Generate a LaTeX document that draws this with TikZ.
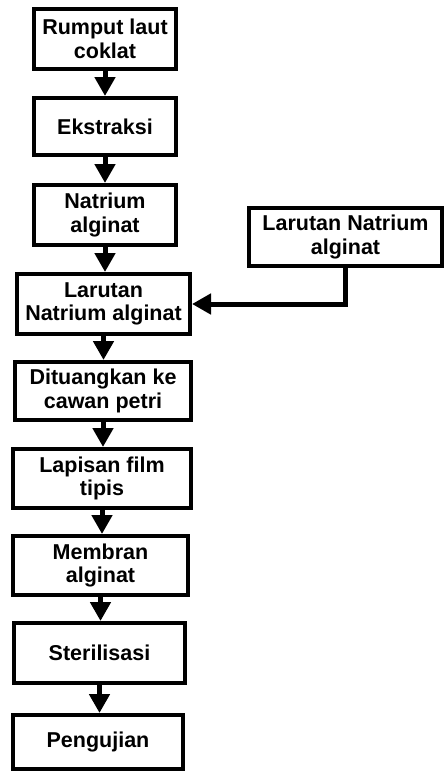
\documentclass[tikz,border=0pt]{standalone}
\usepackage{fontspec}
\setmainfont{Liberation Sans}
\usetikzlibrary{arrows.meta,calc}
\begin{document}
\begin{tikzpicture}[x=1pt,y=-1pt,
  box/.style={draw=black, line width=4pt, rectangle, align=center,
    font=\fontsize{21.5}{23.5}\selectfont\bfseries, inner sep=0pt},
  flow/.style={line width=5pt, -{Triangle[width=20pt,length=19pt]}}]
\useasboundingbox (0,0) rectangle (446,774);
\node[box, minimum width=142pt, minimum height=60pt] (b1) at (105,39) {Rumput laut\\coklat};
\node[box, minimum width=142pt, minimum height=57pt] (b2) at (105,126.5) {Ekstraksi};
\node[box, minimum width=142pt, minimum height=60pt] (b3) at (105,215) {Natrium\\alginat};
\node[box, minimum width=173pt, minimum height=60pt] (b4) at (103.5,304) {Larutan\\Natrium alginat};
\node[box, minimum width=193pt, minimum height=58pt] (r) at (345.5,237) {Larutan Natrium\\alginat};
\node[box, minimum width=176pt, minimum height=58pt] (b5) at (103,391) {Dituangkan ke\\cawan petri};
\node[box, minimum width=178pt, minimum height=59pt] (b6) at (102,478.5) {Lapisan film\\tipis};
\node[box, minimum width=175pt, minimum height=59pt] (b7) at (100.5,565.5) {Membran\\alginat};
\node[box, minimum width=171pt, minimum height=60pt] (b8) at (99.5,653) {Sterilisasi};
\node[box, minimum width=170pt, minimum height=54pt] (b9) at (98,742) {Pengujian};
\draw[flow] (b1.south) -- (b1.south |- b2.north);
\draw[flow] (b2.south) -- (b2.south |- b3.north);
\draw[flow] (b3.south) -- (b3.south |- b4.north);
\draw[flow] (b4.south) -- (b4.south |- b5.north);
\draw[flow] (b5.south) -- (b5.south |- b6.north);
\draw[flow] (b6.south) -- (b6.south |- b7.north);
\draw[flow] (b7.south) -- (b7.south |- b8.north);
\draw[flow] (b8.south) -- (b8.south |- b9.north);
\draw[flow] (r.south) |- (b4.east);
\end{tikzpicture}
\end{document}
